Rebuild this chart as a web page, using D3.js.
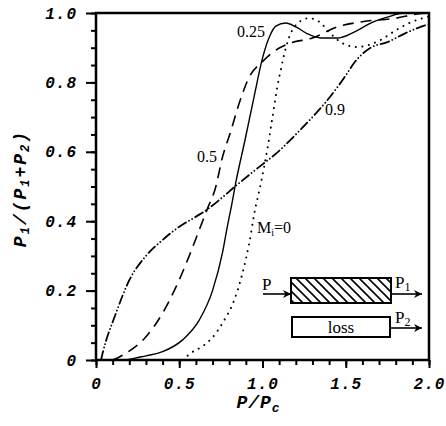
<!DOCTYPE html>
<html>
<head>
<meta charset="utf-8">
<script src="https://cdn.jsdelivr.net/npm/d3@7"></script>
<style>
  body { margin: 0; background: #fff; }
  .tick-lbl { font-family: "Liberation Mono", monospace; font-weight: bold; font-style: italic; font-size: 16px; letter-spacing: 1px; }
  .serif { font-family: "Liberation Serif", serif; font-size: 16px; }
</style>
</head>
<body>
<div id="chart"></div>
<script>
// curve data: [P/Pc, P1/(P1+P2)]
var curveM0 = [[0.52,0],[0.57,0.02],[0.65,0.043],[0.72,0.077],[0.77,0.115],[0.815,0.155],[0.85,0.2],[0.877,0.245],
  [0.9,0.29],[0.92,0.336],[0.95,0.42],[0.995,0.52],[1.03,0.61],[1.06,0.7],[1.09,0.79],[1.11,0.836],[1.13,0.88],
  [1.16,0.93],[1.2,0.965],[1.28,0.985],[1.34,0.975],[1.41,0.94],[1.48,0.913],[1.57,0.902],[1.7,0.92],[1.8,0.95],
  [1.9,0.975],[2.0,0.99]];
var curve025 = [[0.18,0],[0.26,0.008],[0.3,0.012],[0.4,0.024],[0.52,0.058],[0.62,0.115],[0.7,0.2],[0.76,0.31],
  [0.785,0.375],[0.82,0.46],[0.835,0.5],[0.895,0.634],[0.95,0.76],[1.0,0.87],[1.045,0.935],[1.08,0.962],
  [1.14,0.971],[1.2,0.96],[1.27,0.94],[1.35,0.928],[1.45,0.928],[1.55,0.945],[1.65,0.971],[1.75,0.988],
  [1.85,1.0],[2.0,1.0]];
var curve05 = [[0.1,0],[0.16,0.014],[0.3,0.067],[0.4,0.135],[0.48,0.21],[0.56,0.3],[0.62,0.375],[0.67,0.437],
  [0.72,0.5],[0.757,0.58],[0.81,0.66],[0.86,0.74],[0.92,0.815],[1.0,0.86],[1.065,0.888],[1.16,0.912],
  [1.3,0.928],[1.45,0.96],[1.6,0.975],[1.8,0.985],[1.93,0.997],[2.0,1.0]];
var curve09 = [[0.03,0],[0.04,0.02],[0.12,0.135],[0.2,0.23],[0.3,0.3],[0.4,0.346],[0.5,0.384],[0.6,0.413],
  [0.68,0.438],[0.75,0.465],[0.835,0.5],[0.95,0.545],[1.105,0.605],[1.2,0.65],[1.3,0.7],[1.4,0.755],
  [1.5,0.82],[1.55,0.856],[1.65,0.9],[1.75,0.916],[1.85,0.94],[1.95,0.96],[2.0,0.968]];

var xTicks = [0, 0.5, 1.0, 1.5, 2.0];
var xTickLabels = ["0", "0.5", "1.0", "1.5", "2.0"];
var yTicks = [0, 0.2, 0.4, 0.6, 0.8, 1.0];
var yTickLabels = ["0", "0.2", "0.4", "0.6", "0.8", "1.0"];

var margin = { top: 13, right: 17, bottom: 66, left: 96 },
  width = 446 - margin.left - margin.right,
  height = 426 - margin.top - margin.bottom;

var svg = d3.select("#chart").append("svg")
  .attr("width", 446).attr("height", 426)
  .append("g")
  .attr("transform", "translate(" + margin.left + "," + margin.top + ")");

var x = d3.scaleLinear().domain([0, 2]).range([0, width]);
var y = d3.scaleLinear().domain([0, 1]).range([height, 0]);

// hatch pattern + arrow head for the inset
var defs = svg.append("defs");
defs.append("pattern")
  .attr("id", "hatch").attr("patternUnits", "userSpaceOnUse")
  .attr("width", 9).attr("height", 9)
  .append("path")
  .attr("d", "M-2,-2 L11,11 M-2,7 L2,11 M7,-2 L11,2")
  .attr("stroke", "#000").attr("stroke-width", 1.6);
defs.append("marker")
  .attr("id", "arrow").attr("viewBox", "0 0 10 10")
  .attr("refX", 10).attr("refY", 5)
  .attr("markerWidth", 12).attr("markerHeight", 8)
  .attr("markerUnits", "userSpaceOnUse")
  .attr("orient", "auto")
  .append("path").attr("d", "M0,0 L10,5 L0,10 L3,5 Z").attr("fill", "#000");

// minor ticks
var xAxisMinor = d3.axisBottom(x).tickValues(d3.range(0, 2.001, 0.1)).tickSize(5).tickFormat("");
var yAxisMinor = d3.axisLeft(y).tickValues(d3.range(0, 1.001, 0.05)).tickSize(5).tickFormat("");
var gxm = svg.append("g").attr("transform", "translate(0," + height + ")").call(xAxisMinor);
var gym = svg.append("g").call(yAxisMinor);

// major ticks
var xAxis = d3.axisBottom(x).tickValues(xTicks).tickSize(8).tickPadding(6)
  .tickFormat(function (d, i) { return xTickLabels[i]; });
var yAxis = d3.axisLeft(y).tickValues(yTicks).tickSize(10).tickPadding(9)
  .tickFormat(function (d, i) { return yTickLabels[i]; });
var gx = svg.append("g").attr("transform", "translate(0," + height + ")").call(xAxis);
var gy = svg.append("g").call(yAxis);

[gxm, gym, gx, gy].forEach(function (g) {
  g.selectAll(".domain").remove();
  g.selectAll("line").attr("stroke", "#000").attr("stroke-width", 2);
  g.selectAll("text").attr("class", "tick-lbl").attr("fill", "#000");
});
gx.selectAll("text").attr("dy", "0.95em");

// frame
svg.append("rect")
  .attr("x", 0).attr("y", 0).attr("width", width).attr("height", height)
  .attr("fill", "none").attr("stroke", "#000").attr("stroke-width", 2.5);

// curves
var line = d3.line()
  .x(function (d) { return x(d[0]); })
  .y(function (d) { return y(d[1]); })
  .curve(d3.curveMonotoneX);

var series = [
  { data: curveM0, dash: "0.1,6.5", w: 2, cap: "round" },
  { data: curve025, dash: null, w: 1.4, cap: "butt" },
  { data: curve05, dash: "11,7", w: 1.6, cap: "butt" },
  { data: curve09, dash: "9,3.5,0.1,3.5,0.1,3.5", w: 1.8, cap: "round" }
];
series.forEach(function (s) {
  svg.append("path")
    .datum(s.data)
    .attr("d", line)
    .attr("fill", "none")
    .attr("stroke", "#000")
    .attr("stroke-width", s.w)
    .attr("stroke-linecap", s.cap)
    .attr("stroke-dasharray", s.dash);
});

// curve labels
svg.append("text").attr("class", "serif").attr("x", 141).attr("y", 24).text("0.25");
svg.append("text").attr("class", "serif").attr("x", 101).attr("y", 149).text("0.5");
svg.append("text").attr("class", "serif").attr("x", 229).attr("y", 102).text("0.9");
var mi = svg.append("text").attr("class", "serif").attr("x", 161).attr("y", 220);
mi.append("tspan").text("M");
mi.append("tspan").attr("font-size", "10px").attr("dy", 3).text("i");
mi.append("tspan").attr("dy", -3).text("=0");

// inset schematic
var inset = svg.append("g").attr("transform", "translate(" + (-margin.left) + "," + (-margin.top) + ")");
inset.append("rect").attr("x", 291).attr("y", 278).attr("width", 100).attr("height", 25)
  .attr("fill", "url(#hatch)").attr("stroke", "#000").attr("stroke-width", 2);
inset.append("rect").attr("x", 292).attr("y", 317).attr("width", 98).attr("height", 20)
  .attr("fill", "#fff").attr("stroke", "#000").attr("stroke-width", 2);
inset.append("text").attr("class", "serif").attr("x", 341).attr("y", 333)
  .attr("text-anchor", "middle").style("font-size", "17px").text("loss");
inset.append("line").attr("x1", 263).attr("x2", 291).attr("y1", 294).attr("y2", 294)
  .attr("stroke", "#000").attr("stroke-width", 1.6).attr("marker-end", "url(#arrow)");
inset.append("line").attr("x1", 391).attr("x2", 422).attr("y1", 294).attr("y2", 294)
  .attr("stroke", "#000").attr("stroke-width", 1.6).attr("marker-end", "url(#arrow)");
inset.append("line").attr("x1", 391).attr("x2", 422).attr("y1", 328).attr("y2", 328)
  .attr("stroke", "#000").attr("stroke-width", 1.6).attr("marker-end", "url(#arrow)");
inset.append("text").attr("class", "serif").attr("x", 262).attr("y", 290).style("font-size", "17px").text("P");
var p1 = inset.append("text").attr("class", "serif").attr("x", 395).attr("y", 288).style("font-size", "17px");
p1.append("tspan").text("P");
p1.append("tspan").attr("font-size", "12px").attr("dy", 3).text("1");
var p2 = inset.append("text").attr("class", "serif").attr("x", 395).attr("y", 323).style("font-size", "17px");
p2.append("tspan").text("P");
p2.append("tspan").attr("font-size", "12px").attr("dy", 3).text("2");

// axis titles
var xl = svg.append("text").attr("class", "tick-lbl")
  .attr("x", width / 2 - 4).attr("y", height + 48)
  .attr("text-anchor", "middle").style("font-size", "18px");
xl.append("tspan").text("P/P");
xl.append("tspan").attr("font-size", "13px").attr("dy", 4).text("c");

var yl = svg.append("text").attr("class", "tick-lbl")
  .attr("transform", "translate(" + (-70) + "," + (height / 2 + 2) + ") rotate(-90)")
  .attr("text-anchor", "middle").style("font-size", "18px").style("letter-spacing", "2px");
yl.append("tspan").text("P");
yl.append("tspan").attr("font-size", "12px").attr("dy", 3).text("1");
yl.append("tspan").attr("dy", -3).text("/(P");
yl.append("tspan").attr("font-size", "12px").attr("dy", 3).text("1");
yl.append("tspan").attr("dy", -3).text("+P");
yl.append("tspan").attr("font-size", "12px").attr("dy", 3).text("2");
yl.append("tspan").attr("dy", -3).text(")");
</script>
</body>
</html>
